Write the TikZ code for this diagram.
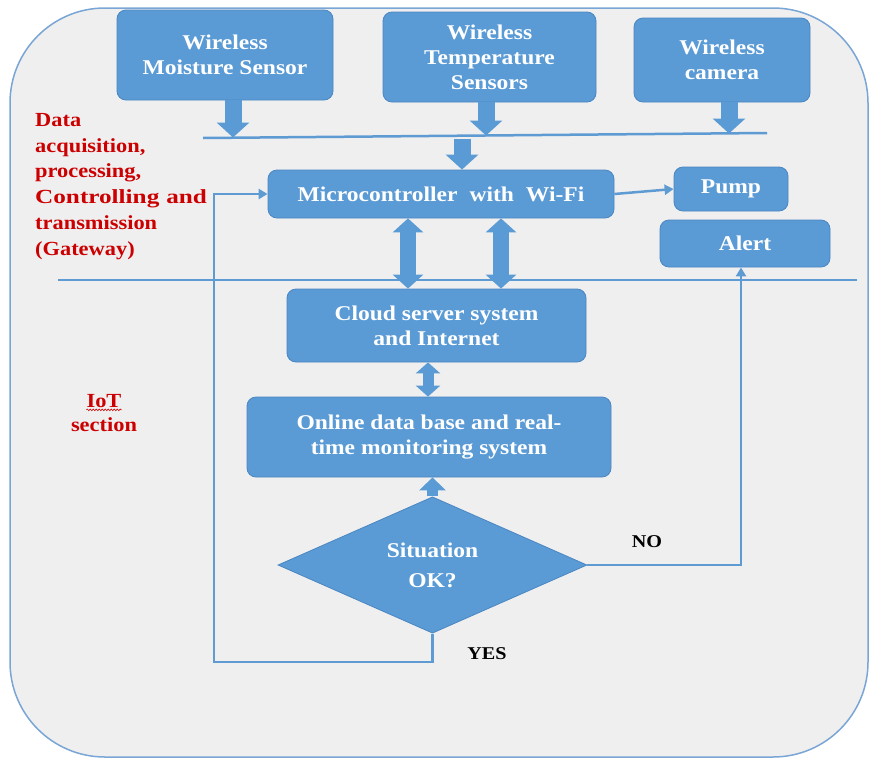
\documentclass[tikz,border=0pt]{standalone}
\usepackage{fontspec}
\setmainfont{Liberation Serif}
\newfontfamily\blockfont[FakeStretch=1.12]{Liberation Serif}
\newfontfamily\widefont[FakeStretch=1.26]{Liberation Serif}
\usetikzlibrary{arrows.meta,shapes.geometric,decorations.pathmorphing}

\definecolor{boxblue}{HTML}{5B9BD5}
\definecolor{boxedge}{HTML}{4A86C2}
\definecolor{linkblue}{HTML}{5F9BD3}
\definecolor{panel}{HTML}{EFEFEF}
\definecolor{framecol}{HTML}{7AA6D6}
\definecolor{labelred}{HTML}{CC0000}

\begin{document}
\begin{tikzpicture}[x=1pt,y=-1pt,
  box/.style={draw=boxedge, line width=0.8pt, fill=boxblue, rounded corners=9pt,
    text=white, align=center, inner sep=0pt,
    font={\blockfont\bfseries\fontsize{21pt}{25pt}\selectfont}},
  decision/.style={diamond, draw=boxedge, line width=0.8pt, fill=boxblue,
    text=white, align=center, inner sep=0pt,
    font={\blockfont\bfseries\fontsize{21pt}{25pt}\selectfont}},
  redlabel/.style={text=labelred, align=left, inner sep=0pt,
    font={\blockfont\bfseries\fontsize{20pt}{25.8pt}\selectfont}},
  answer/.style={text=black, inner sep=0pt,
    font={\blockfont\bfseries\fontsize{18pt}{22pt}\selectfont}},
  link/.style={draw=linkblue, line width=2.5pt},
  linkarrow/.style={link, -{Triangle[width=10pt,length=9pt]}},
  blockarrow/.style={draw=boxblue, line width=17pt, -{Triangle[width=32pt,length=15pt]}},
  dblarrow/.style={draw=boxblue, line width=16pt,
    {Triangle[width=30pt,length=14pt]}-{Triangle[width=30pt,length=14pt]}},
  smalldbl/.style={draw=boxblue, line width=11pt,
    {Triangle[width=24pt,length=11pt]}-{Triangle[width=24pt,length=11pt]}},
  uparrow/.style={draw=boxblue, line width=11pt, -{Triangle[width=26pt,length=13pt]}}
]
\useasboundingbox (0,0) rectangle (873,766);

% outer rounded panel
\draw[framecol, line width=1.5pt, fill=panel, rounded corners=95pt] (10,8) rectangle (868,757);

% sensors
\node[box, minimum width=216pt, minimum height=90pt] (moist) at (225,55) {Wireless\\Moisture Sensor};
\node[box, minimum width=213pt, minimum height=90pt] (temp) at (489.5,57) {Wireless\\Temperature\\Sensors};
\node[box, minimum width=176pt, minimum height=84pt] (cam) at (722,60) {Wireless\\camera};

% gateway and actuators
\node[box, minimum width=346pt, minimum height=48pt] (micro) at (441,194) {Microcontroller\hspace{12pt}with\hspace{12pt}Wi-Fi};
\node[box, minimum width=114pt, minimum height=44pt] (pump) at (731,189) {Pump};
\node[box, minimum width=170pt, minimum height=47pt] (alert) at (745,243.5) {Alert};

% IoT part
\node[box, minimum width=299pt, minimum height=73pt] (cloud) at (436.5,325.5) {Cloud server system\\and Internet};
\node[box, minimum width=364pt, minimum height=80pt] (online) at (429,437) {Online data base and real-\\time monitoring system};
\node[decision, minimum width=309pt, minimum height=136pt] (dia) at (432.5,565) {Situation\\[5pt]OK?};

% sensor bus
\coordinate (busL) at (203,138);
\coordinate (busR) at (767,133);
\coordinate (bm) at (233,137.5);
\coordinate (bt) at (486,135.5);
\coordinate (bc) at (729,133.5);
\coordinate (bo) at (462,136);
\draw[link] (busL) -- (busR);
\draw[blockarrow] (moist.south -| bm) -- (bm);
\draw[blockarrow] (temp.south -| bt) -- (bt);
\draw[blockarrow] (cam.south -| bc) -- (bc);
\draw[blockarrow] ([yshift=-3pt]bo) -- (micro.north -| bo);

% section separator
\coordinate (sepL) at (58,280);
\coordinate (sepR) at (857,280);
\draw[link] (sepL) -- (sepR);

% micro <-> cloud
\coordinate (d1) at (408,0);
\coordinate (d2) at (501,0);
\coordinate (d3) at (428,0);
\draw[dblarrow] (micro.south -| d1) -- (cloud.north -| d1);
\draw[dblarrow] (micro.south -| d2) -- (cloud.north -| d2);

% cloud <-> online, decision -> online
\draw[smalldbl] (cloud.south -| d3) -- (online.north -| d3);
\draw[uparrow] (dia.north) -- (online.south -| dia.north);

% control lines
\draw[linkarrow] (micro.east) -- (pump.west);
\draw[linkarrow] (dia.east) -| ([xshift=-4pt]alert.south);
\coordinate (yc) at (214,662);
\draw[linkarrow] (dia.south) |- (yc) |- (micro.west);

% labels
\node[redlabel, anchor=north west] (gw) at (35,113) {Data\\acquisition,\\processing,\\{\widefont\bfseries Controlling\hspace{7pt}and}\\transmission\\(Gateway)};
\node[redlabel] (iot) at (104,401) {IoT};
\node[redlabel] (sect) at (104,425) {section};
\draw[labelred, line width=0.6pt, decorate, decoration={snake, amplitude=0.8pt, segment length=3pt}]
  ([yshift=-2pt]iot.south west) -- ([yshift=-2pt]iot.south east);
\node[answer] (no) at (647,542) {NO};
\node[answer] (yes) at (487,654) {YES};
\end{tikzpicture}
\end{document}
